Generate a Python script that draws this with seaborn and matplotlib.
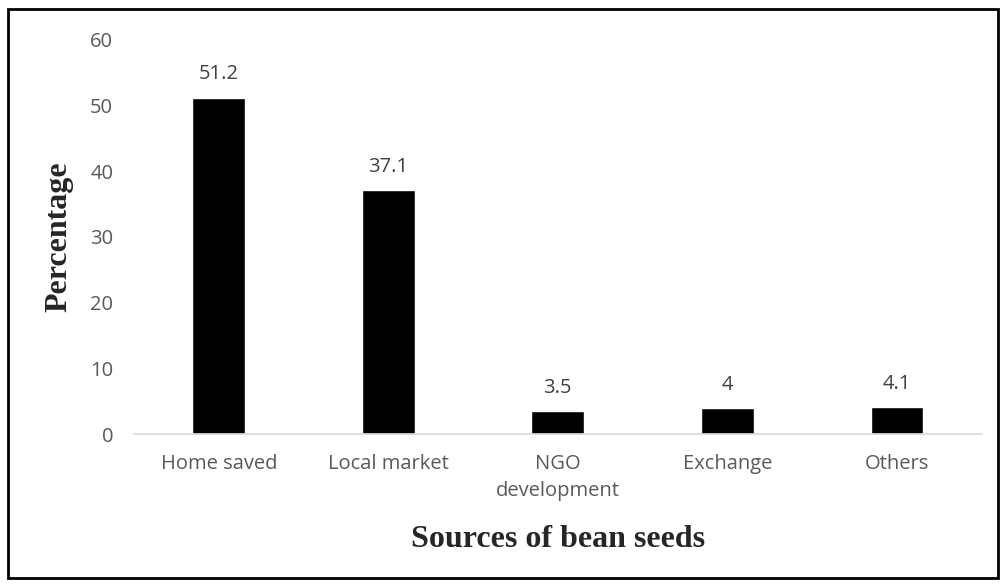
import numpy as np
import pandas as pd
import matplotlib
matplotlib.use("Agg")
import matplotlib.pyplot as plt
import matplotlib.patches as mpatches
import seaborn as sns

sources = ["Home saved", "Local market", "NGO\ndevelopment", "Exchange", "Others"]
percent = [51.2, 37.1, 3.5, 4, 4.1]
value_labels = ["51.2", "37.1", "3.5", "4", "4.1"]

df = pd.DataFrame({"source": sources, "pct": percent})

sns.set_theme(style="white")
plt.rcParams["font.family"] = ["Open Sans", "DejaVu Sans"]

fig = plt.figure(figsize=(10.03, 5.85), dpi=100)
ax = fig.add_axes([0.1336, 0.258, 0.845, 0.674])

sns.barplot(data=df, x="source", y="pct", color="black", width=0.31,
            saturation=1, ax=ax)

ax.set_ylim(0, 60)
ax.set_yticks(np.arange(0, 61, 10))
ax.set_xlim(-0.5, 4.5)
ax.tick_params(axis="both", labelsize=14.5, colors="#595959", length=0)
ax.tick_params(axis="x", pad=14)
ax.tick_params(axis="y", pad=15)
for t in ax.get_xticklabels():
    t.set_linespacing(1.5)

for s in ["top", "right", "left"]:
    ax.spines[s].set_visible(False)
ax.spines["bottom"].set_color("#d9d9d9")
ax.spines["bottom"].set_linewidth(1.2)

for i, (v, lab) in enumerate(zip(percent, value_labels)):
    ax.text(i, v + 2.0, lab, ha="center", va="bottom", fontsize=14.5, color="#404040")

ax.set_xlabel("Sources of bean seeds", family="Liberation Serif", fontweight="bold",
              fontsize=23, color="#262626", labelpad=17)
ax.set_ylabel("Percentage", family="Liberation Serif", fontweight="bold",
              fontsize=23, color="#262626", labelpad=12)

fig.patches.append(mpatches.Rectangle((0.008, 0.012), 0.987, 0.973, transform=fig.transFigure,
                                      fill=False, edgecolor="black", linewidth=2))

fig.savefig("out.png", dpi=100)
